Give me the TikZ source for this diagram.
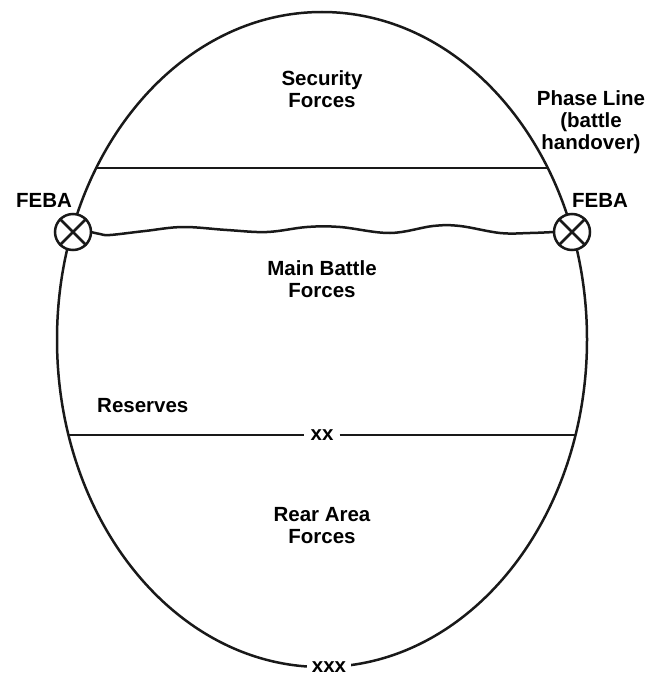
\documentclass[tikz,border=0pt]{standalone}
\usepackage{fontspec}
\setmainfont{Liberation Sans}
\begin{document}
\begin{tikzpicture}[x=1pt,y=-1pt,
  lbl/.style={font=\fontsize{20.5}{22}\selectfont\bfseries, align=center, inner sep=0pt},
  edge/.style={line width=2.5pt, draw=black!90},
  cutlbl/.style={lbl, fill=white, inner xsep=6pt, inner ysep=2pt}]
\useasboundingbox (0,0) rectangle (658,677);

% outer boundary of the area
\draw[edge] (322,339.5) ellipse [x radius=265, y radius=327.5];

% boundary lines
\coordinate (plL) at (96.5,168);
\coordinate (plR) at (547.5,168);
\draw[edge] (plL) -- (plR);

\coordinate (xxL) at (68.5,435);
\coordinate (xxR) at (575.5,435);
\node[cutlbl] (xx) at (322,435) {xx};
\draw[edge] (xxL) -- (xx.west);
\draw[edge] (xx.east) -- (xxR);

\node[cutlbl, inner xsep=5pt, inner ysep=0pt] (xxx) at (329,667) {xxx};

% FEBA markers
\node[circle, draw=black!90, line width=2.5pt, fill=white, minimum size=36pt, inner sep=0pt] (febaL) at (73,232) {};
\node[circle, draw=black!90, line width=2.5pt, fill=white, minimum size=36pt, inner sep=0pt] (febaR) at (572,232) {};
\foreach \m in {febaL,febaR}{
  \draw[edge] (\m.45) -- (\m.225);
  \draw[edge] (\m.135) -- (\m.315);
}

% forward edge of the battle area
\draw[edge] (febaL.east) plot[smooth, tension=0.6] coordinates {
  (91,232) (100,234) (110,235) (145,231) (183,227) (227,230) (267,232)
  (307,227) (340,227) (390,233) (433,226) (460,226) (500,233) (530,233) (554,232)};

% labels
\node[lbl] (sec) at (322,89) {Security\\Forces};
\node[lbl] (phase) at (591,122) {Phase Line\\(battle\\handover)};
\node[lbl] (febaLt) at (44,200) {FEBA};
\node[lbl] (febaRt) at (600,200) {FEBA};
\node[lbl] (main) at (322,279) {Main Battle\\Forces};
\node[lbl, anchor=west] (res) at (97,406) {Reserves};
\node[lbl] (rear) at (322,526) {Rear Area\\Forces};
\end{tikzpicture}
\end{document}
